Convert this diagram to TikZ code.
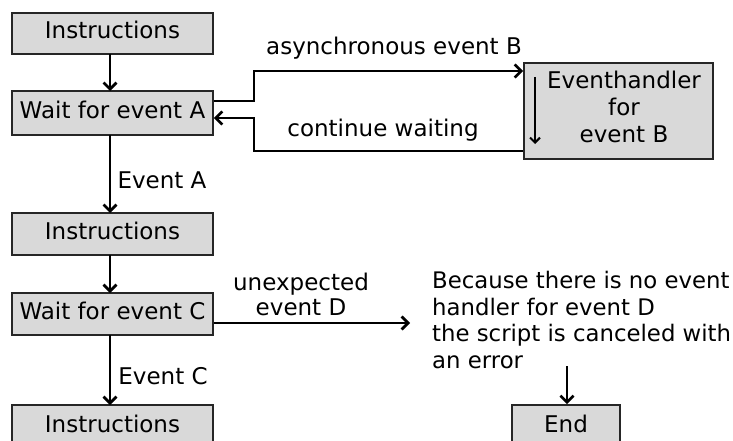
\documentclass[tikz,border=0pt]{standalone}
\usepackage{fontspec}
\setmainfont{DejaVu Sans}
\usetikzlibrary{arrows.meta}
\begin{document}
\begin{tikzpicture}[x=1pt,y=-1pt,
  box/.style={draw=black!85,line width=1.8pt,fill={rgb,255:red,217;green,217;blue,217},inner sep=0pt,text height=17pt,text depth=6pt,font=\fontsize{23}{27}\selectfont},
  lbl/.style={inner sep=0pt,font=\fontsize{23}{26}\selectfont},
  conn/.style={line width=2.7pt,-{Straight Barb[length=6.5pt,width=13pt,line width=2.7pt]}}]
\useasboundingbox (0,0) rectangle (733,441);
\begin{scope}
\clip (0,0) rectangle (733,441);
\node[box,minimum width=201pt,minimum height=41pt] (i1) at (112.5,33.5) {Instructions};
\node[box,minimum width=201pt,minimum height=44pt] (wa) at (112.5,113) {Wait for event A};
\node[box,minimum width=201pt,minimum height=42pt] (i2) at (112.5,234) {Instructions};
\node[box,minimum width=201pt,minimum height=42pt] (wc) at (112.5,314) {Wait for event C};
\node[box,minimum width=201pt,minimum height=44pt] (i3) at (112.5,427) {Instructions};
\node[box,minimum width=189pt,minimum height=96pt,text height=,text depth=] (eh) at (618.5,111) {};
\node[box,minimum width=108pt,minimum height=44pt] (end) at (566,427) {End};
\end{scope}
\node[lbl,align=center,font=\fontsize{23}{27}\selectfont] (eht) at (624,107) {Eventhandler\\for\\event B};
\node[lbl] (ea) at (162,180) {Event A};
\node[lbl] (ecl) at (163,376) {Event C};
\node[lbl] (ab) at (394,48) {asynchronous event B};
\node[lbl] (cw) at (383,130) {continue waiting};
\node[lbl,align=center,font=\fontsize{23}{25}\selectfont] (ud) at (301,294) {unexpected\\event D};
\node[lbl,align=left,anchor=north west,font=\fontsize{22.8}{26.7}\selectfont] (msg) at (432,271) {Because there is no event\\handler for event D\\the script is canceled with\\an error};
\coordinate (d) at (410,323);
\coordinate (ehs) at (535,77);
\coordinate (ehe) at (535,144);
\coordinate (es) at (567,366);
\draw[conn] (110,54) -- (110,91);
\draw[conn] (110,135) -- (110,213);
\draw[conn] (110,255) -- (110,293);
\draw[conn] (110,335) -- (110,405);
\draw[conn] (wa.east |- 0,101) -- (254,101) -- (254,71) -- (eh.west |- 0,71);
\draw[conn] (eh.west |- 0,151) -- (254,151) -- (254,118) -- (wa.east |- 0,118);
\draw[conn] (wc.east |- 0,323) -- (d);
\draw[line width=2pt,-{Straight Barb[length=5pt,width=10pt,line width=2pt]}] (ehs) -- (ehe);
\draw[conn] (es) -- (end.north -| es);
\end{tikzpicture}
\end{document}
